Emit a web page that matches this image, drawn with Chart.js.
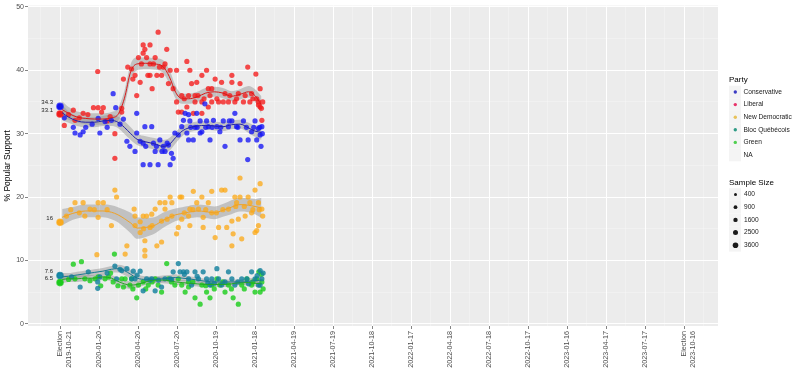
<!DOCTYPE html>
<html>
<head>
<meta charset="utf-8">
<script src="https://cdn.jsdelivr.net/npm/chart.js@4.4.0/dist/chart.umd.min.js"></script>
<style>
  html, body { margin: 0; padding: 0; background: #fff; }
  #wrap { width: 800px; height: 373px; }
</style>
</head>
<body>
<div id="wrap"><canvas id="pollChart" width="800" height="373"></canvas></div>
<script>
// x values are days after the 2019-10-21 election
const parties = ["Conservative", "Liberal", "New Democratic", "Bloc Québécois", "Green"];
const electionResult = [34.3, 33.1, 16, 7.6, 6.5];
const xTickLabels = [["Election", "2019-10-21"], "2020-01-20", "2020-04-20", "2020-07-20", "2020-10-19",
    "2021-01-18", "2021-04-19", "2021-07-19", "2021-10-18", "2022-01-17", "2022-04-18", "2022-07-18",
    "2022-10-17", "2023-01-16", "2023-04-17", "2023-07-17", ["Election", "2023-10-16"]];
const yTickLabels = ["0", "10", "20", "30", "40", "50"];
const sampleSizes = ["400", "900", "1600", "2500", "3600"];

// polls
const conDays = [10,31,47,54,35,89,93,105,120,124,130,148,156,163,179,179,175,187,194,194,210,229,257,214,218,222,233,241,245,253,
    264,268,276,284,288,296,300,303,311,315,319,327,331,338,342,346,350,358,366,373,381,385,393,401,408,412,420,428,438,439,
    447,455,463,467,469,471,459,292,300,260,198,327,200,225,238,250,305,320,340,355,375,395,415,435,452,466,472,60,75,110,140];
const conPolls = [32.5,31.0,29.8,30.3,30.1,32.4,30.1,31.9,32.1,36.3,34.1,32.3,28.8,28.0,33.2,30.1,27.2,28.8,28.5,25.1,25.1,25.1,25.1,31.1,28.5,27.2,29.0,28.0,27.2,28.2,
    26.1,30.1,29.8,31.1,32.1,30.1,29.0,32.0,29.0,31.0,33.2,32.0,30.3,34.7,32.0,31.1,29.0,32.1,31.1,30.3,32.0,28.0,31.1,32.0,33.2,31.1,29.0,32.0,25.9,29.0,
    30.3,32.0,30.8,29.8,28.0,31.1,29.0,33.2,33.0,26.9,31.1,30.1,28.0,28.0,27.2,28.5,31.0,31.0,31.0,31.0,31.0,32.0,31.0,31.0,31.0,31.0,30.0,31.0,31.5,31.0,31.5];

const libDays = [10,31,35,54,78,89,101,88,97,117,128,128,144,144,148,158,167,179,183,187,194,198,194,210,202,210,222,229,249,210,
    226,237,241,215,257,245,253,264,272,272,276,284,296,300,303,307,315,319,331,331,342,346,354,362,370,377,385,393,401,401,
    408,416,420,428,438,443,447,457,463,467,467,471,331,311,284,296,346,381,315,354,459,463,
    190,218,232,205,175,170,290,322,336,350,366,396,412,432,450,470,473,20,45,65,110];
const libPolls = [31.3,33.7,32.1,33.2,34.1,34.1,34.1,39.8,33.4,32.7,30.0,26.1,34.0,33.4,38.6,40.5,40.2,36.0,42.0,38.1,42.7,43.3,44.0,44.0,42.0,41.0,42.0,46.0,43.3,39.2,
    39.2,39.2,40.5,37.1,40.0,41.0,37.9,37.1,40.0,35.0,33.4,36.0,41.4,36.0,40.0,37.9,35.0,38.1,39.2,35.0,40.0,37.1,35.0,38.6,35.0,38.1,36.3,35.0,39.2,38.1,
    35.0,36.3,37.9,35.0,40.5,35.0,36.3,39.4,35.0,37.1,34.2,32.1,33.2,33.2,33.4,34.2,34.2,35.0,36.0,37.1,35.5,34.5,
    41.0,41.0,40.5,39.2,39.2,38.6,35.5,36.0,35.5,36.0,35.5,36.0,35.5,36.0,35.5,34.0,35.0,33.0,32.5,33.0,32.0];

const ndpDays = [35,54,89,101,128,132,120,58,70,89,152,156,173,175,187,187,194,202,198,198,198,214,222,226,233,237,245,257,261,272,
    280,284,276,284,300,303,311,319,331,334,346,354,362,370,377,385,389,401,401,404,408,412,420,420,424,439,443,455,467,471,
    463,459,463,455,323,354,393,303,261,237,210,432,447,416,86,175,245,334,
    15,25,45,80,110,195,215,250,290,310,340,365,380,410,430,450,465,473];
const ndpPolls = [19.1,19.1,19.1,19.1,21.1,20.0,15.5,17.0,18.1,16.8,11.0,12.3,18.1,17.0,16.1,14.4,17.0,17.0,13.1,11.6,10.7,17.3,18.1,12.3,19.1,12.9,19.1,20.0,19.1,14.2,
    20.0,20.0,15.2,16.5,17.0,18.1,20.9,19.1,20.0,15.2,19.1,20.9,13.6,15.2,21.1,21.1,15.2,16.2,12.3,14.2,20.0,19.1,23.0,20.0,13.4,20.0,19.1,21.1,22.1,18.1,
    19.1,14.7,15.5,14.4,18.1,17.5,18.1,15.5,17.0,16.2,15.2,17.0,17.5,16.5,10.9,15.5,18.1,16.8,
    17.0,18.0,17.5,18.0,18.0,15.0,15.5,16.5,17.5,18.0,18.0,17.5,18.0,18.5,18.5,18.0,18.0,17.0];

const blocDays = [27,47,66,88,88,93,128,144,156,171,175,187,194,202,214,222,237,245,257,264,276,280,288,296,300,307,315,323,334,342,
    350,354,366,370,377,393,401,408,424,436,447,455,463,467,471,467,167,132,
    110,140,180,210,230,260,290,320,345,360,385,415,440,460,474];
const blocPolls = [7.4,5.8,8.2,6.6,5.6,7.4,9.1,8.4,8.7,8.3,7.1,8.3,5.2,7.1,7.1,5.2,5.8,7.1,7.1,8.2,9.5,8.2,8.2,8.2,7.1,6.1,8.2,7.1,8.2,7.1,
    6.1,7.1,8.7,7.1,6.1,8.2,7.1,6.1,7.1,7.1,8.2,7.1,6.1,8.4,7.1,6.1,7.1,7.1,
    8.0,8.6,7.7,6.9,6.9,7.0,7.8,7.5,6.5,6.4,6.6,6.6,6.3,7.6,8.0];

const greenDays = [31,50,127,35,58,82,105,113,124,148,152,163,179,183,194,206,222,229,237,249,253,268,276,284,292,300,315,327,331,342,
    350,354,366,373,385,393,404,416,424,436,447,455,459,464,471,467,89,144,167,
    20,70,95,118,135,170,200,215,260,300,310,340,360,380,400,430,450,470,474];
const greenPolls = [9.4,9.8,11.0,7.1,7.1,7.1,7.1,7.4,6.6,5.8,7.1,6.1,4.1,6.1,6.6,6.1,7.1,6.1,5.0,9.5,7.1,6.1,7.1,6.1,5.0,6.6,4.1,3.1,6.1,5.0,
    4.1,6.1,7.1,6.1,5.0,6.1,4.1,3.1,6.1,7.1,6.1,5.0,7.1,8.2,6.6,5.0,7.4,7.1,7.1,
    7.0,6.8,6.0,8.0,6.0,5.5,5.5,6.6,6.6,5.8,6.6,6.0,5.5,6.6,5.5,5.5,6.6,7.8,5.5];

// smoothed trend and half width of its grey band
const trendDays = [5,20,40,60,80,100,120,135,150,165,180,200,220,240,255,270,285,300,320,340,360,380,400,420,440,455,470];
const conTrend = [33.3,32.6,32.0,31.8,31.8,32.0,32.1,31.8,31.0,30.0,29.1,28.7,28.4,28.0,28.3,29.4,30.4,30.9,31.2,31.3,31.2,31.1,31.4,31.5,30.9,30.4,30.2];
const conBand  = [1.2,0.9,0.8,0.8,0.8,0.8,0.9,0.9,1.0,1.0,0.9,0.9,0.9,1.0,1.0,0.9,0.8,0.7,0.7,0.7,0.7,0.7,0.7,0.7,0.8,0.9,1.2];
const libTrend = [33.8,33.2,32.6,32.4,32.3,32.3,32.5,33.0,35.5,39.8,41.0,41.1,41.0,40.6,39.0,36.5,35.5,35.5,35.8,36.4,36.6,36.4,35.9,36.2,36.6,36.0,34.5];
const libBand  = [1.3,1.0,0.9,0.9,0.9,0.9,0.9,1.0,1.2,1.2,1.0,0.9,0.9,1.0,1.1,1.0,0.8,0.8,0.8,0.8,0.8,0.8,0.8,0.8,0.9,1.0,1.4];
const ndpTrend = [16.8,17.2,17.6,17.8,17.8,17.8,17.6,17.2,16.6,15.9,15.1,15.2,15.5,16.3,16.8,17.2,17.4,17.6,17.8,17.7,17.5,17.9,18.4,18.8,18.7,18.5,18.3];
const ndpBand  = [1.3,1.1,1.0,1.0,1.0,1.0,1.1,1.2,1.4,1.6,1.7,1.5,1.3,1.2,1.1,1.0,1.0,1.0,1.0,1.0,1.0,1.0,1.1,1.1,1.1,1.2,1.6];
const blocTrend = [7.4,7.5,7.7,7.9,8.1,8.3,8.6,8.7,8.4,7.8,7.2,7.0,7.0,7.1,7.2,7.3,7.2,7.1,6.9,6.7,6.6,6.6,6.6,6.6,6.7,6.8,6.9];
const blocBand  = [0.6,0.5,0.5,0.5,0.5,0.5,0.5,0.6,0.7,0.7,0.6,0.5,0.5,0.5,0.5,0.5,0.4,0.4,0.4,0.4,0.4,0.4,0.4,0.4,0.5,0.5,0.7];
const greenTrend = [7.0,7.1,7.1,7.2,7.2,7.4,7.2,6.7,6.3,6.1,6.2,6.6,6.9,6.9,6.8,6.6,6.5,6.4,6.3,6.2,6.2,6.2,6.3,6.5,6.5,6.4,6.3];
const greenBand  = [0.6,0.5,0.5,0.5,0.5,0.5,0.5,0.6,0.6,0.6,0.5,0.5,0.5,0.5,0.5,0.5,0.4,0.4,0.4,0.4,0.4,0.4,0.4,0.4,0.5,0.5,0.7];

// styles
const pointColors = ["rgba(20,20,245,0.78)", "rgba(245,25,25,0.78)", "rgba(252,168,20,0.75)", "rgba(18,128,158,0.82)", "rgba(25,205,25,0.8)"];
const lineColors = ["#2323a8", "#d81818", "#f0a225", "#1a7a90", "#22a822"];
const solidColors = ["#1515e8", "#ee1c1c", "#f8aa22", "#168aa8", "#1ec81e"];
const legendDotColors = ["#3b3bc4", "#e8336a", "#e8c25a", "#2f9c86", "#4fcf4f"];
const sizeRadii = [1.5, 1.9, 2.2, 2.5, 2.8];

const pollDays = [conDays, libDays, ndpDays, blocDays, greenDays];
const pollValues = [conPolls, libPolls, ndpPolls, blocPolls, greenPolls];
const trends = [conTrend, libTrend, ndpTrend, blocTrend, greenTrend];
const bands = [conBand, libBand, ndpBand, blocBand, greenBand];

const TICK_STEP = 91;

function xy(days, vals) {
    return days.map(function(d, i) { return {x: d, y: vals[i]}; });
}

let datasets = [];
// lines on top
for (let i = 0; i < parties.length; i++) {
    datasets.push({
        type: 'line', label: parties[i] + ' trend', data: xy(trendDays, trends[i]),
        borderColor: lineColors[i], borderWidth: 1, pointRadius: 0, fill: false,
        cubicInterpolationMode: 'monotone', order: 0
    });
}
datasets.push({
    type: 'scatter', label: 'Election',
    data: electionResult.map(function(v) { return {x: 0, y: v}; }),
    backgroundColor: solidColors, borderColor: pointColors, borderWidth: 1.6,
    pointRadius: 3, order: 1
});
for (let i = 0; i < parties.length; i++) {
    datasets.push({
        type: 'scatter', label: parties[i], data: xy(pollDays[i], pollValues[i]),
        backgroundColor: pointColors[i], borderWidth: 0, pointRadius: 2.6, order: 2
    });
}
for (let i = 0; i < parties.length; i++) {
    let t = trends[i], b = bands[i];
    datasets.push({
        type: 'line', label: parties[i] + ' upper',
        data: xy(trendDays, t.map(function(v, k) { return v + b[k]; })),
        borderWidth: 0, pointRadius: 0, cubicInterpolationMode: 'monotone',
        backgroundColor: 'rgba(150,150,150,0.5)', fill: '+1', order: 3
    });
    datasets.push({
        type: 'line', label: parties[i] + ' lower',
        data: xy(trendDays, t.map(function(v, k) { return v - b[k]; })),
        borderWidth: 0, pointRadius: 0, cubicInterpolationMode: 'monotone',
        fill: false, order: 3
    });
}

const FONT = '"Liberation Sans", Arial, sans-serif';

const panelPlugin = {
    id: 'panel',
    beforeDraw(chart) {
        const a = chart.chartArea, ctx = chart.ctx;
        ctx.save();
        ctx.fillStyle = '#ececec';
        ctx.fillRect(a.left, a.top, a.right - a.left, a.bottom - a.top);
        ctx.restore();
    }
};

const electionLabels = {
    id: 'electionLabels',
    afterDatasetsDraw(chart) {
        const ctx = chart.ctx, xs = chart.scales.x, ys = chart.scales.y;
        ctx.save();
        ctx.font = '6px ' + FONT;
        ctx.fillStyle = '#222';
        ctx.textAlign = 'right';
        ctx.textBaseline = 'middle';
        for (let i = 0; i < electionResult.length; i++) {
            ctx.fillText(String(electionResult[i]), xs.getPixelForValue(0) - 7,
                ys.getPixelForValue(electionResult[i]) - 4);
        }
        ctx.restore();
    }
};

const sideLegend = {
    id: 'sideLegend',
    afterDraw(chart) {
        const ctx = chart.ctx;
        ctx.save();
        ctx.textBaseline = 'middle';
        ctx.textAlign = 'left';
        ctx.fillStyle = '#000';
        ctx.font = '8px ' + FONT;
        ctx.fillText('Party', 729, 80);
        let rows = parties.concat(['NA']);
        for (let i = 0; i < rows.length; i++) {
            let y = 92 + i * 12.6;
            ctx.fillStyle = '#f4f4f4';
            ctx.fillRect(729, y - 6.3, 12, 12.6);
            if (i < parties.length) {
                ctx.fillStyle = legendDotColors[i];
                ctx.beginPath();
                ctx.arc(735.3, y, 1.7, 0, Math.PI * 2);
                ctx.fill();
            }
            ctx.fillStyle = '#1a1a1a';
            ctx.font = '6.6px ' + FONT;
            ctx.fillText(rows[i], 743.5, y);
        }
        ctx.fillStyle = '#000';
        ctx.font = '8px ' + FONT;
        ctx.fillText('Sample Size', 729, 182.5);
        for (let i = 0; i < sampleSizes.length; i++) {
            let y = 194.5 + i * 12.7;
            ctx.fillStyle = '#f4f4f4';
            ctx.fillRect(729, y - 6.3, 12, 12.6);
            ctx.fillStyle = '#1a1a1a';
            ctx.beginPath();
            ctx.arc(735.5, y, sizeRadii[i], 0, Math.PI * 2);
            ctx.fill();
            ctx.font = '6.6px ' + FONT;
            ctx.fillText(sampleSizes[i], 744, y);
        }
        ctx.restore();
    }
};

function isMajorX(v) { return Math.abs(v % TICK_STEP) < 0.01; }

const config = {
    type: 'scatter',
    data: { datasets: datasets },
    options: {
        responsive: false,
        animation: false,
        events: [],
        layout: { padding: { top: 3, right: 82, left: 0, bottom: 0 } },
        plugins: { legend: { display: false }, tooltip: { enabled: false } },
        scales: {
            x: {
                type: 'linear', min: -74.7, max: 1535.3,
                afterBuildTicks: function(scale) {
                    let ticks = [];
                    for (let i = 0; i < xTickLabels.length; i++) {
                        ticks.push({value: i * TICK_STEP});
                        if (i < xTickLabels.length - 1) ticks.push({value: i * TICK_STEP + TICK_STEP / 2});
                    }
                    ticks.unshift({value: -TICK_STEP / 2});
                    ticks.push({value: (xTickLabels.length - 1) * TICK_STEP + TICK_STEP / 2});
                    scale.ticks = ticks;
                },
                afterFit: function(scale) { scale.height = 47; },
                ticks: {
                    autoSkip: false, minRotation: 90, maxRotation: 90, padding: 2,
                    color: '#4d4d4d', font: { family: FONT, size: 7.2 },
                    callback: function(v) {
                        return isMajorX(v) ? xTickLabels[Math.round(v / TICK_STEP)] : '';
                    }
                },
                grid: {
                    color: function(c) { return c.tick && isMajorX(c.tick.value) ? '#ffffff' : 'rgba(255,255,255,0.5)'; },
                    lineWidth: function(c) { return c.tick && isMajorX(c.tick.value) ? 1 : 0.5; },
                    tickColor: function(c) { return c.tick && isMajorX(c.tick.value) ? '#333333' : 'rgba(0,0,0,0)'; },
                    tickLength: 3, tickWidth: 0.6
                },
                border: { display: false }
            },
            y: {
                type: 'linear', min: -0.35, max: 50.2,
                afterBuildTicks: function(scale) {
                    let ticks = [];
                    for (let i = 0; i < yTickLabels.length * 2 - 1; i++) ticks.push({value: i * 5});
                    scale.ticks = ticks;
                },
                afterFit: function(scale) { scale.width = 28; },
                title: {
                    display: true, text: '% Popular Support', color: '#000',
                    font: { family: FONT, size: 8.5 }, padding: { top: 3, bottom: 0 }
                },
                ticks: {
                    padding: 1, color: '#4d4d4d', font: { family: FONT, size: 7 },
                    callback: function(v) { return v % 10 === 0 ? yTickLabels[v / 10] : ''; }
                },
                grid: {
                    color: function(c) { return c.tick && c.tick.value % 10 === 0 ? '#ffffff' : 'rgba(255,255,255,0.5)'; },
                    lineWidth: function(c) { return c.tick && c.tick.value % 10 === 0 ? 1 : 0.5; },
                    tickColor: function(c) { return c.tick && c.tick.value % 10 === 0 ? '#333333' : 'rgba(0,0,0,0)'; },
                    tickLength: 3, tickWidth: 0.6
                },
                border: { display: false }
            }
        }
    },
    plugins: [panelPlugin, electionLabels, sideLegend]
};

const myChart = new Chart(document.getElementById('pollChart'), config);
</script>
</body>
</html>
